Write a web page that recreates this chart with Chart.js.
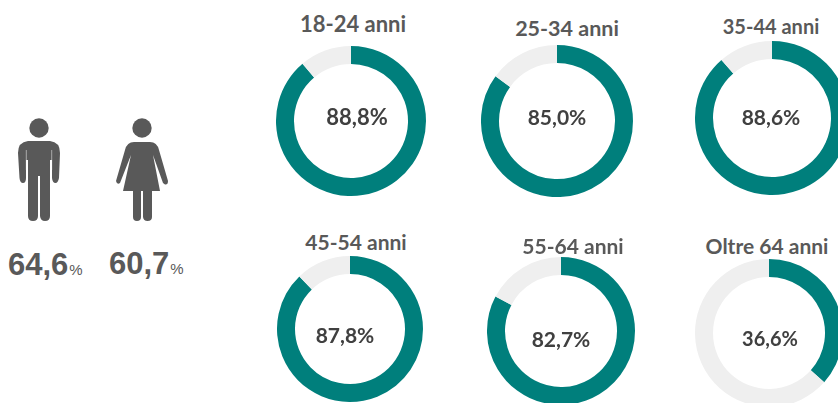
<!DOCTYPE html>
<html>
<head>
<meta charset="utf-8">
<title>Partecipazione per età</title>
<script src="https://cdn.jsdelivr.net/npm/chart.js@4/dist/chart.umd.min.js"></script>
<style>
html, body { margin: 0; padding: 0; background: #fff; }
#page { position: relative; width: 838px; height: 403px; overflow: hidden; }
canvas { position: absolute; }
.t { position: absolute; transform: translate(-50%, -50%); white-space: nowrap; font-family: Lato, sans-serif; font-weight: 700; }
.title { color: #595959; }
.val { color: #404040; }
.gender { position: absolute; font-family: "Liberation Sans", sans-serif; font-weight: 700; font-size: 31px; color: #595959; white-space: nowrap; line-height: 30px; }
.gender small { font-size: 15px; font-weight: 400; margin-left: 1px; }
svg { position: absolute; left: 0; top: 0; }
</style>
</head>
<body>
<div id="page">
<svg width="200" height="240" fill="#595959" stroke="none">
  <circle cx="39" cy="128" r="9.7"/>
  <path d="M28 141 H50 Q60 142 60 153 L59 178 Q58 183 55.500 183 Q52.500 183 52 178 L52 160 L50 160 L50 216 Q50 221 45 221 Q40.500 221 40 216 L40 176 H38 L38 216 Q38 221 33 221 Q28 221 28 216 L28 160 H26 L26 178 Q26 183 23 183 Q20 183 19.500 178 L18 153 Q18 142 28 141 Z"/>
  <path d="M26.300 150 V170 M51.700 150 V170" stroke="#fff" stroke-width="0.7" fill="none" opacity="0.7"/>
  <circle cx="142" cy="128" r="9.7"/>
  <path d="M134 142 H150 Q157 142 159 150 L168 181 Q168 185 165 184.500 L163 183 L153 155 L160 191 H152 L152 217 Q152 221 147.500 221 Q143.500 221 143 217 L143 191 H141 L141 217 Q141 221 137 221 Q133 221 133 217 L133 191 H123 L131 155 L120 183 Q117 185 116 181 L125 150 Q127 142 134 142 Z"/>
</svg>
<div class="gender" style="left:8px;top:250px">64,6<small>%</small></div>
<div class="gender" style="left:109px;top:249px">60,7<small>%</small></div>
</div>
<script>
const ageGroups = ['18-24 anni', '25-34 anni', '35-44 anni', '45-54 anni', '55-64 anni', 'Oltre 64 anni'];
const shares = [88.8, 85.0, 88.6, 87.8, 82.7, 36.6];
const shareLabels = ['88,8%', '85,0%', '88,6%', '87,8%', '82,7%', '36,6%'];

// where each ring sits: centre x, centre y, radius
const rings = [
    [351, 121, 75],
    [557, 121, 76],
    [772, 118, 77],
    [350, 329, 73],
    [561, 331, 74],
    [769, 333, 74],
];
// x, y, font size
const titlePos = [[353, 23, 22], [567, 28, 21.5], [771, 26, 20], [356, 241, 21], [573, 245, 21], [767, 245, 21]];
const valuePos = [[357, 116, 22], [557, 116, 21], [771, 116, 21], [345, 334, 21], [561, 338, 21], [770, 338, 20]];

const page = document.getElementById('page');

function addText(cls, text, pos) {
    const el = document.createElement('div');
    el.className = 't ' + cls;
    el.textContent = text;
    el.style.left = pos[0] + 'px';
    el.style.top = pos[1] + 'px';
    el.style.fontSize = pos[2] + 'px';
    page.appendChild(el);
}

ageGroups.forEach((group, i) => {
    const [cx, cy, r] = rings[i];
    const canvas = document.createElement('canvas');
    canvas.width = r * 2;
    canvas.height = r * 2;
    canvas.style.left = (cx - r) + 'px';
    canvas.style.top = (cy - r) + 'px';
    page.appendChild(canvas);

    new Chart(canvas, {
        type: 'doughnut',
        data: {
            labels: [group, 'Altri'],
            datasets: [{
                data: [shares[i], 100 - shares[i]],
                backgroundColor: ['#007F7C', '#EFEFEF'],
                borderWidth: 0
            }]
        },
        options: {
            responsive: false,
            animation: false,
            cutout: r - 18,
            plugins: {
                legend: { display: false },
                tooltip: { enabled: false }
            }
        }
    });

    addText('title', group, titlePos[i]);
    addText('val', shareLabels[i], valuePos[i]);
});
</script>
</body>
</html>
